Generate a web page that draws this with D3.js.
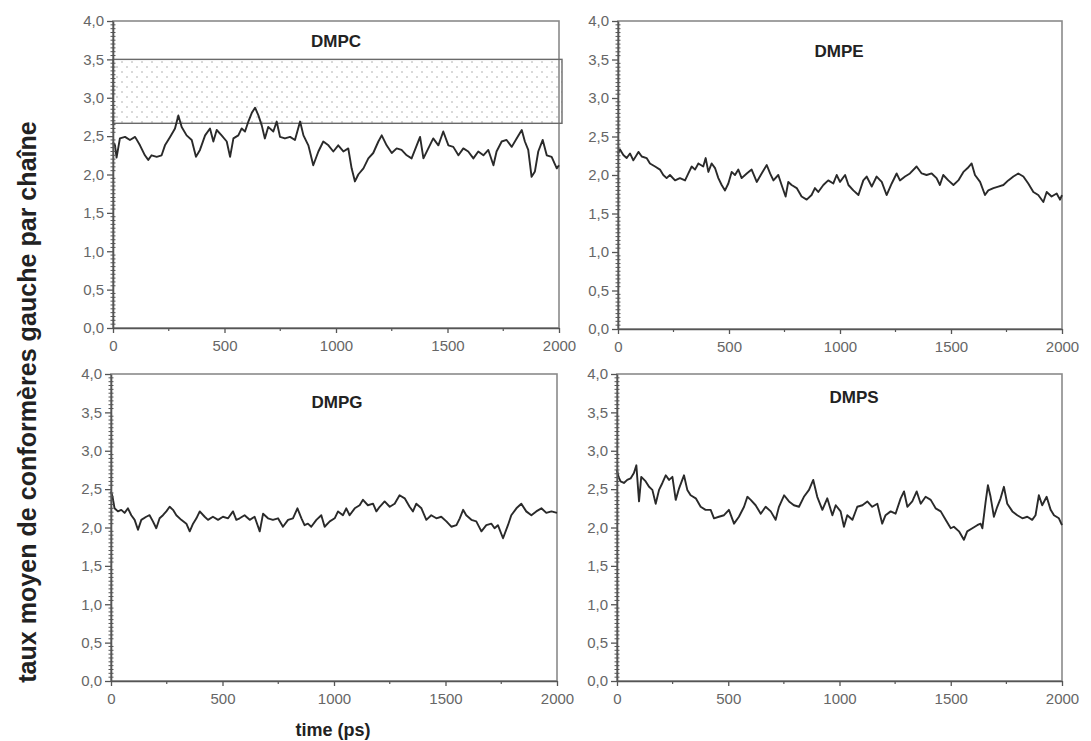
<!DOCTYPE html>
<html><head><meta charset="utf-8">
<script src="https://cdn.jsdelivr.net/npm/d3@7"></script>
<style>body{margin:0;background:#fff} svg{display:block}</style>
</head><body>
<svg id="c" width="1091" height="741"></svg>
<script>
// ---------- data ----------
const xTicks = [0, 500, 1000, 1500, 2000];
const xMinorTicks = [250, 750, 1250, 1750];
const yTicks = [0, 0.5, 1, 1.5, 2, 2.5, 3, 3.5, 4];
const seriesNames = ["DMPC", "DMPE", "DMPG", "DMPS"];
const xLabel = "time (ps)";
const yLabel = "taux moyen de conformères gauche par chaîne";
const dmpcBand = [2.667, 3.5];

const dmpcTime = [0,9,16,31,54,76,99,121,143,158,173,196,218,233,256,278,293,308,330,353,372,390,413,435,450,465,487,510,525,540,562,577,592,607,622,637,652,667,681,696,719,734,749,771,794,816,839,854,876,883,898,921,943,966,988,1010,1033,1055,1070,1085,1100,1123,1145,1167,1190,1205,1227,1250,1272,1294,1317,1339,1362,1377,1392,1414,1436,1459,1481,1504,1526,1549,1571,1593,1616,1638,1661,1683,1706,1720,1743,1765,1788,1810,1833,1847,1862,1877,1892,1907,1927,1945,1967,1990,2000];
const dmpcValue = [2.42,2.38,2.22,2.47,2.49,2.45,2.49,2.38,2.25,2.19,2.25,2.23,2.25,2.38,2.49,2.60,2.77,2.62,2.51,2.45,2.23,2.32,2.51,2.60,2.43,2.58,2.51,2.43,2.23,2.47,2.51,2.60,2.56,2.69,2.80,2.87,2.77,2.64,2.47,2.62,2.56,2.69,2.49,2.47,2.49,2.45,2.69,2.51,2.38,2.30,2.12,2.30,2.43,2.38,2.30,2.38,2.30,2.34,2.08,1.91,2.00,2.08,2.21,2.28,2.43,2.51,2.38,2.28,2.34,2.32,2.25,2.21,2.38,2.49,2.21,2.34,2.47,2.38,2.56,2.38,2.36,2.25,2.34,2.30,2.21,2.30,2.25,2.32,2.12,2.30,2.43,2.45,2.36,2.47,2.58,2.43,2.32,1.97,2.04,2.30,2.45,2.25,2.23,2.08,2.12];

const dmpeTime = [0,9,24,39,54,69,92,107,129,144,167,189,204,219,234,257,279,302,317,332,347,362,384,395,407,422,437,452,467,482,497,512,527,542,557,580,602,625,647,670,685,700,722,737,755,767,782,805,827,850,872,887,902,925,947,970,985,1000,1023,1038,1060,1083,1105,1120,1143,1165,1188,1210,1233,1255,1270,1293,1315,1345,1368,1390,1413,1435,1450,1465,1488,1511,1533,1556,1575,1593,1608,1631,1653,1668,1691,1713,1736,1758,1781,1803,1826,1848,1871,1893,1916,1931,1953,1976,1991,2000];
const dmpeValue = [2.28,2.33,2.26,2.22,2.28,2.19,2.30,2.24,2.22,2.15,2.11,2.07,2.00,1.96,2.00,1.93,1.96,1.93,2.02,2.11,2.07,2.15,2.11,2.22,2.04,2.15,2.09,1.96,1.87,1.80,1.89,2.04,2.00,2.07,1.96,2.02,2.07,1.91,2.02,2.13,2.02,1.93,2.00,1.87,1.72,1.91,1.87,1.83,1.72,1.68,1.74,1.83,1.78,1.87,1.93,1.89,2.00,1.91,2.00,1.87,1.80,1.74,1.93,1.98,1.85,1.98,1.91,1.74,1.89,2.02,1.93,1.98,2.02,2.11,2.02,2.00,2.02,1.96,1.87,2.00,1.93,1.87,1.93,2.04,2.09,2.15,2.00,1.91,1.74,1.80,1.83,1.85,1.87,1.93,1.98,2.02,1.98,1.89,1.78,1.74,1.65,1.78,1.72,1.76,1.68,1.74];

const dmpgTime = [0,7,16,31,46,61,76,91,106,121,136,158,173,188,203,218,233,248,263,278,293,315,338,353,368,383,398,420,435,457,480,502,525,547,562,577,599,622,644,667,682,704,726,749,771,794,816,836,854,868,883,898,921,943,958,981,1003,1018,1040,1055,1070,1093,1115,1130,1152,1175,1190,1205,1227,1250,1272,1294,1317,1339,1354,1369,1392,1414,1436,1459,1481,1504,1526,1549,1564,1579,1593,1616,1638,1661,1683,1706,1720,1735,1758,1780,1795,1818,1840,1862,1885,1907,1930,1952,1975,2000];
const dmpgValue = [2.47,2.40,2.25,2.21,2.23,2.19,2.25,2.16,2.10,1.97,2.10,2.14,2.16,2.08,1.99,2.12,2.16,2.21,2.27,2.23,2.16,2.10,2.05,1.95,2.05,2.12,2.21,2.14,2.10,2.14,2.10,2.14,2.12,2.21,2.10,2.12,2.16,2.10,2.14,1.95,2.18,2.12,2.10,2.12,2.01,2.10,2.12,2.25,2.12,2.03,2.05,2.01,2.10,2.16,2.01,2.08,2.12,2.21,2.16,2.25,2.16,2.25,2.29,2.36,2.29,2.31,2.21,2.27,2.34,2.27,2.31,2.42,2.38,2.27,2.21,2.31,2.25,2.10,2.16,2.12,2.14,2.08,2.01,2.03,2.12,2.23,2.16,2.10,2.08,1.95,2.03,2.05,1.99,2.03,1.86,2.03,2.16,2.25,2.31,2.21,2.16,2.21,2.25,2.19,2.21,2.19];

const dmpsTime = [0,7,16,31,46,61,76,87,99,109,129,144,159,174,189,204,219,234,249,264,279,301,316,331,354,376,398,421,436,458,481,503,526,548,571,586,601,623,646,668,691,713,728,751,773,795,818,840,863,882,900,923,945,968,983,1005,1020,1035,1058,1080,1103,1125,1147,1170,1192,1207,1230,1252,1275,1290,1305,1327,1347,1365,1387,1410,1432,1455,1477,1500,1514,1537,1559,1574,1597,1619,1634,1642,1657,1667,1679,1694,1709,1724,1739,1754,1777,1799,1822,1844,1866,1881,1896,1911,1931,1949,1964,1986,2000];
const dmpsValue = [2.75,2.66,2.60,2.58,2.62,2.64,2.71,2.81,2.34,2.66,2.60,2.53,2.49,2.31,2.49,2.58,2.68,2.62,2.66,2.36,2.51,2.68,2.49,2.42,2.38,2.27,2.23,2.23,2.12,2.14,2.16,2.23,2.05,2.14,2.27,2.40,2.36,2.29,2.18,2.27,2.21,2.10,2.27,2.42,2.34,2.29,2.27,2.40,2.49,2.62,2.40,2.23,2.38,2.16,2.29,2.21,2.01,2.16,2.10,2.27,2.29,2.34,2.27,2.31,2.05,2.16,2.21,2.18,2.38,2.47,2.27,2.34,2.47,2.31,2.40,2.36,2.25,2.21,2.10,1.99,2.01,1.95,1.84,1.95,1.99,2.03,2.05,1.99,2.34,2.55,2.40,2.14,2.27,2.38,2.53,2.31,2.21,2.16,2.12,2.14,2.10,2.16,2.42,2.29,2.40,2.23,2.16,2.12,2.03];

// ---------- layout ----------
const layout = [
  {x0:113, x1:559, y0:21,  y1:328, tx:336, ty:41},
  {x0:618, x1:1062, y0:21, y1:329, tx:839, ty:51},
  {x0:111, x1:557, y0:374, y1:681, tx:337, ty:402},
  {x0:617, x1:1062, y0:374, y1:681, tx:854, ty:397}
];
const seriesData = [
  [dmpcTime, dmpcValue],
  [dmpeTime, dmpeValue],
  [dmpgTime, dmpgValue],
  [dmpsTime, dmpsValue]
];

const FONT = "'Liberation Sans', Arial, Helvetica, sans-serif";
const svg = d3.select("#c");
const fr = d3.formatLocale({decimal: ",", thousands: "", grouping: [3], currency: ["", ""]});
const yFmt = fr.format(".1f");

const defs = svg.append("defs");
const pat = defs.append("pattern").attr("id", "dots").attr("patternUnits", "userSpaceOnUse")
  .attr("width", 10).attr("height", 10);
pat.append("circle").attr("cx", 2).attr("cy", 2).attr("r", 0.75).attr("fill", "#a0a0a0");
pat.append("circle").attr("cx", 7).attr("cy", 7).attr("r", 0.75).attr("fill", "#a0a0a0");
const blur = defs.append("filter").attr("id", "soft").attr("x", "-5%").attr("y", "-20%").attr("width", "110%").attr("height", "140%");
blur.append("feGaussianBlur").attr("stdDeviation", 0.45);

layout.forEach((L, i) => {
  const x = d3.scaleLinear().domain([0, 2000]).range([L.x0, L.x1]);
  const y = d3.scaleLinear().domain([0, 4]).range([L.y1, L.y0]);
  const g = svg.append("g");

  // frame
  g.append("rect").attr("x", L.x0).attr("y", L.y0).attr("width", L.x1 - L.x0).attr("height", L.y1 - L.y0)
    .attr("fill", "none").attr("stroke", "#8a8a8a").attr("stroke-width", 1.6);

  // DMPC band
  if (i === 0) {
    const bx1 = L.x1 + 3;
    g.append("rect").attr("x", L.x0).attr("y", y(dmpcBand[1]))
      .attr("width", bx1 - L.x0).attr("height", y(dmpcBand[0]) - y(dmpcBand[1]))
      .attr("fill", "url(#dots)").attr("stroke", "#6a6a6a").attr("stroke-width", 1.4);
  }

  // series line
  const [ts, vs] = seriesData[i];
  const pts = ts.map((t, k) => [t, vs[k]]).filter(d => d[1] !== undefined);
  g.append("path").datum(pts)
    .attr("fill", "none").attr("stroke", "#2a2a2a").attr("stroke-width", 1.9)
    .attr("stroke-linejoin", "round").attr("filter", "url(#soft)")
    .attr("d", d3.line().x(d => x(d[0])).y(d => y(d[1])));

  // y minor ticks (crossing axis)
  const minors = d3.range(0, 81).map(k => k * 0.05).filter(v => Math.abs(v * 2 - Math.round(v * 2)) > 1e-6);
  g.append("g").selectAll("line").data(minors).join("line")
    .attr("x1", L.x0 - 2.5).attr("x2", L.x0 + 2.5)
    .attr("y1", d => y(d)).attr("y2", d => y(d))
    .attr("stroke", "#555").attr("stroke-width", 1);

  // y axis
  const ya = g.append("g").attr("transform", `translate(${L.x0},0)`)
    .call(d3.axisLeft(y).tickValues(yTicks).tickFormat(yFmt).tickSize(6).tickSizeOuter(0).tickPadding(3));
  ya.select(".domain").attr("stroke", "#555").attr("stroke-width", 1.6);
  ya.selectAll(".tick line").attr("stroke", "#555").attr("stroke-width", 1.3);
  ya.selectAll(".tick text").attr("fill", "#666").style("font-family", FONT).style("font-size", "15px");

  // x axis
  const xa = g.append("g").attr("transform", `translate(0,${L.y1})`)
    .call(d3.axisBottom(x).tickValues(xTicks).tickFormat(d3.format("d")).tickSize(5).tickSizeOuter(0).tickPadding(7));
  xa.select(".domain").attr("stroke", "#555").attr("stroke-width", 1.6);
  xa.selectAll(".tick line").attr("stroke", "#555").attr("stroke-width", 1.3);
  xa.selectAll(".tick text").attr("fill", "#666").style("font-family", FONT).style("font-size", "15px");
  g.append("g").selectAll("line").data(xMinorTicks).join("line")
    .attr("x1", d => x(d)).attr("x2", d => x(d))
    .attr("y1", L.y1).attr("y2", L.y1 + 3)
    .attr("stroke", "#555").attr("stroke-width", 1.2);

  // title
  g.append("text").attr("x", L.tx).attr("y", L.ty).attr("dy", "0.36em")
    .attr("text-anchor", "middle").attr("fill", "#222")
    .style("font-family", FONT).style("font-weight", "bold").style("font-size", "17px")
    .text(seriesNames[i]);
});

// x label
svg.append("text").attr("x", 333).attr("y", 730).attr("dy", "0.36em")
  .attr("text-anchor", "middle").attr("fill", "#222")
  .style("font-family", FONT).style("font-weight", "bold").style("font-size", "18px")
  .text(xLabel);

// y label
const yl = svg.append("text").attr("transform", "translate(27,402) rotate(-90)")
  .attr("dy", "0.36em").attr("text-anchor", "middle").attr("fill", "#222")
  .style("font-family", FONT).style("font-weight", "bold").style("font-size", "20px")
  .text(yLabel);
const len = yl.node().getComputedTextLength();
yl.style("font-size", (20 * 562 / len).toFixed(2) + "px");
</script>
</body></html>
